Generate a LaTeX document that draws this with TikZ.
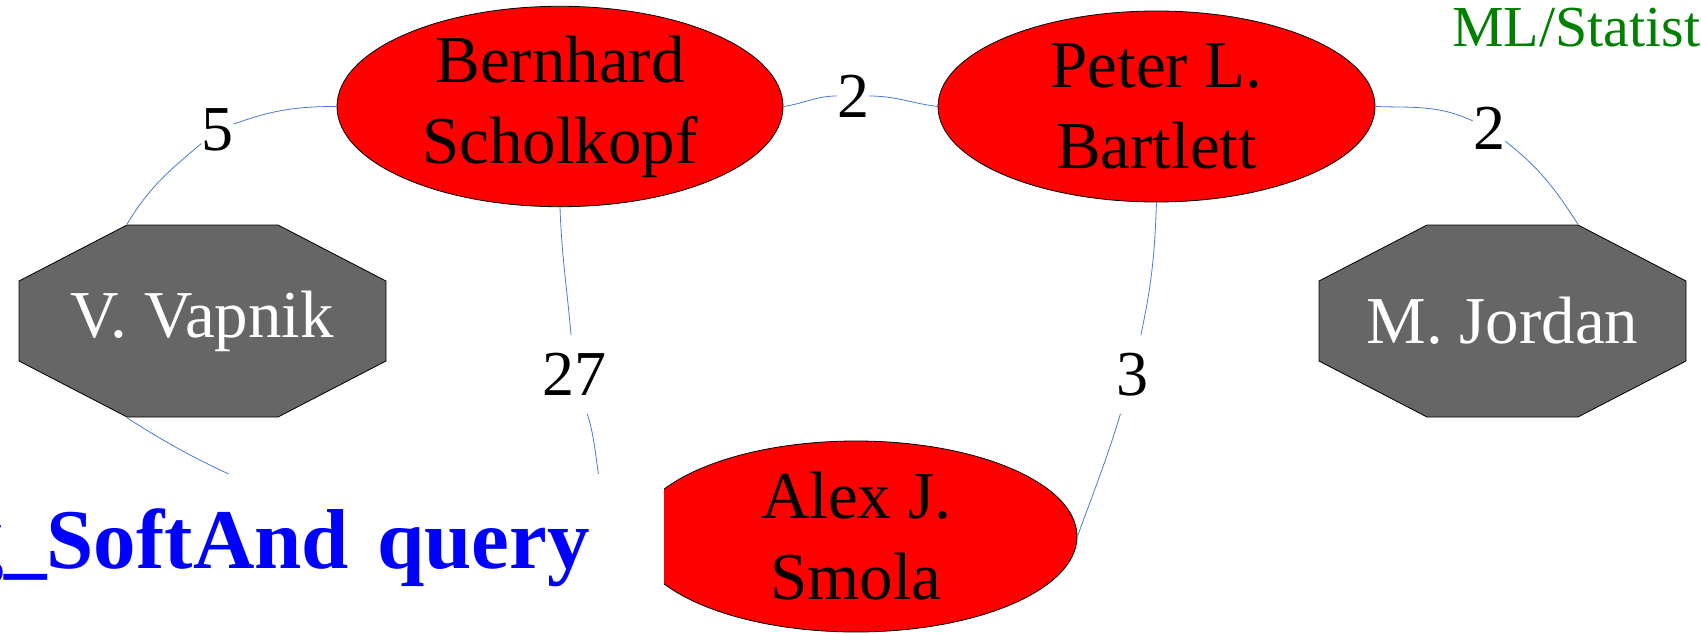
\documentclass[tikz,border=0pt]{standalone}
\usepackage{fontspec}
\setmainfont{Liberation Serif}
\usetikzlibrary{shapes.geometric}
\definecolor{edgeblue}{RGB}{74,122,212}
\definecolor{nodegray}{RGB}{102,102,102}
\definecolor{labgreen}{RGB}{0,128,0}
\begin{document}
\begin{tikzpicture}[x=1pt,y=1pt,
    person/.style={ellipse,draw=black,fill=red,line width=0.8pt,inner sep=0pt,
      minimum height=191pt,align=center,font=\fontsize{67}{81}\selectfont},
    other/.style={rectangle,text=white,inner sep=0pt,minimum width=368pt,
      minimum height=193pt,font=\fontsize{67}{81}\selectfont,
      path picture={\filldraw[fill=nodegray,draw=black,line width=0.8pt]
        ([shift={(108.5pt,-0.5pt)}]path picture bounding box.north west) --
        ([shift={(-108.5pt,-0.5pt)}]path picture bounding box.north east) --
        ([shift={(-0.5pt,-56.5pt)}]path picture bounding box.north east) --
        ([shift={(-0.5pt,56.5pt)}]path picture bounding box.south east) --
        ([shift={(-108.5pt,0.5pt)}]path picture bounding box.south east) --
        ([shift={(108.5pt,0.5pt)}]path picture bounding box.south west) --
        ([shift={(0.5pt,56.5pt)}]path picture bounding box.south west) --
        ([shift={(0.5pt,-56.5pt)}]path picture bounding box.north west) -- cycle;}},
    weight/.style={inner sep=0pt,minimum height=78pt,font=\fontsize{64}{78}\selectfont},
    link/.style={draw=edgeblue,line width=0.8pt}]
  \useasboundingbox (0,0) rectangle (1701,-634);
  \clip (0,0) rectangle (1701,-634);

  \node[person,minimum width=446pt] (bs) at (560,-106.5) {Bernhard\\Scholkopf};
  \node[person,minimum width=437pt] (bp) at (1156.5,-106.5) {Peter L.\\Bartlett};
  \node[person,minimum width=442pt] (sm) at (856,-536.5) {Alex J.\\Smola};
  \node[other] (vv) at (202.5,-321) {V. Vapnik};
  \node[other] (mj) at (1502.5,-321) {M. Jordan};

  \node[weight] (l5) at (217.5,-130) {5};
  \node[weight] (l2a) at (853,-96) {2};
  \node[weight] (l2b) at (1489,-128.5) {2};
  \node[weight] (l27) at (574.5,-374.5) {27};
  \node[weight] (l3) at (1132.5,-374.5) {3};

  \draw[link] (bs.west) to[out=180,in=20] (l5) to[out=220,in=59] (vv.128);
  \draw[link] (bs.east) to[out=8,in=180] (l2a) to[out=0,in=173] (bp.west);
  \draw[link] (bp.east) to[out=-2,in=155] (l2b) to[out=-38,in=123] (mj.52);
  \draw[link] (bs.south) to[out=-88,in=95] (l27) to[out=-72,in=150] (sm.west);
  \draw[link] (bp.south) to[out=-92,in=78] (l3) to[out=-107,in=70] (sm.east);
  \draw[link] (vv.232) to[out=-33,in=180] (sm.west);

  \node[text=labgreen,anchor=base west,inner sep=0pt,
    font=\fontsize{58}{70}\selectfont] (cat) at (1452,-47) {ML/Statist};
  \node[fill=white,anchor=north east,inner xsep=74pt,inner ysep=34pt,
    text width=700pt,align=right,text height=60pt,text depth=100pt,text=blue,
    font=\fontsize{85}{100}\selectfont\bfseries] (qry) at (664,-474) {g\_SoftAnd query};
\end{tikzpicture}
\end{document}
